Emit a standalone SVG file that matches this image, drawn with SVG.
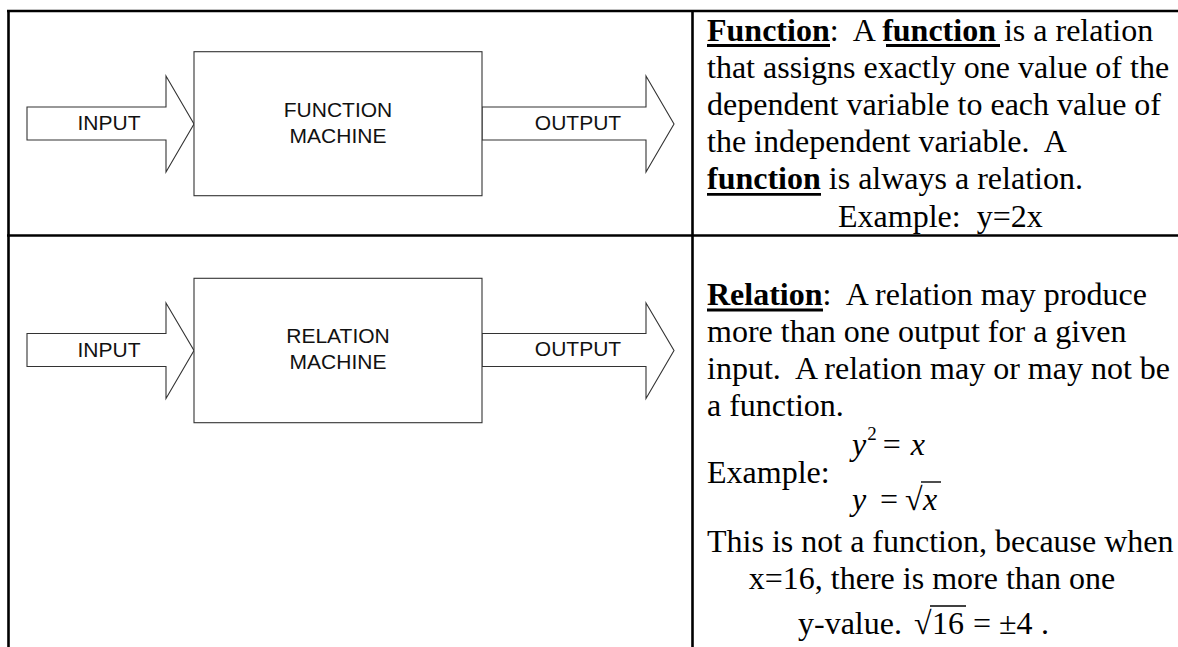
<svg xmlns="http://www.w3.org/2000/svg" width="1178" height="647" viewBox="0 0 1178 647">
<style>
.grid{stroke:#000;stroke-width:2.6;fill:none}
.shape{fill:#fff;stroke:#333;stroke-width:1.1}
.lbl{font-family:"Liberation Sans",Arial,sans-serif;font-size:21px;fill:#111;text-anchor:middle}
.t{font-family:"Liberation Serif","Times New Roman",serif;font-size:32px;fill:#000;white-space:pre}
.c{text-anchor:middle}
.b{font-weight:bold}
.i{font-style:italic}
.ul{stroke:#000;stroke-width:2.8}
.bar{stroke:#000;stroke-width:1.4}
</style>
<rect width="1178" height="647" fill="#fff"/>
<g id="table">
<line class="grid" x1="7" y1="11" x2="1178" y2="11"/>
<line class="grid" x1="7" y1="235.5" x2="1178" y2="235.5"/>
<line class="grid" x1="8.5" y1="10" x2="8.5" y2="647"/>
<line class="grid" x1="692.5" y1="10" x2="692.5" y2="647"/>
</g>
<g id="connectors">
<polygon id="in1" class="shape" points="27,107 166,107 166,76 194,124 166,172 166,140 27,140"/>
<polygon id="out1" class="shape" points="482,107 646,107 646,76 674,124 646,172 646,140 482,140"/>
<polygon id="in2" class="shape" points="27,333.5 166,333.5 166,303 194,350.5 166,398.5 166,366.5 27,366.5"/>
<polygon id="out2" class="shape" points="482,333.5 646,333.5 646,303 674,350.5 646,398.5 646,366.5 482,366.5"/>
<text class="lbl" x="109" y="130">INPUT</text>
<text class="lbl" x="578" y="129.5">OUTPUT</text>
<text class="lbl" x="109" y="356.7">INPUT</text>
<text class="lbl" x="578" y="356.2">OUTPUT</text>
</g>
<g id="function-machine">
<rect class="shape" x="194" y="51.7" width="288" height="144"/>
<text class="lbl" x="338" y="116.7">FUNCTION</text>
<text class="lbl" x="338" y="142.7">MACHINE</text>
</g>
<g id="relation-machine">
<rect class="shape" x="194" y="278.3" width="288" height="144.4"/>
<text class="lbl" x="338" y="343.3">RELATION</text>
<text class="lbl" x="338" y="369.3">MACHINE</text>
</g>
<g id="function-definition">
<text class="t" x="707" y="40.5"><tspan class="b">Function</tspan>:  A <tspan class="b">function</tspan> is a relation</text>
<line class="ul" x1="707" y1="45.5" x2="830" y2="45.5"/>
<line class="ul" x1="886" y1="45.5" x2="1000" y2="45.5"/>
<text class="t" x="707" y="77.7">that assigns exactly one value of the</text>
<text class="t" x="707" y="114.9">dependent variable to each value of</text>
<text class="t" x="707" y="152.1">the independent variable.  A</text>
<text class="t" x="707" y="189.3"><tspan class="b">function</tspan> is always a relation.</text>
<line class="ul" x1="707" y1="194.3" x2="821" y2="194.3"/>
<text class="t" x="838" y="226.5">Example:  y=2x</text>
</g>
<g id="relation-definition">
<text class="t" x="707" y="305"><tspan class="b">Relation</tspan>:  A relation may produce</text>
<line class="ul" x1="707" y1="310" x2="823" y2="310"/>
<text class="t" x="707" y="342">more than one output for a given</text>
<text class="t" x="707" y="379">input.  A relation may or may not be</text>
<text class="t" x="707" y="416">a function.</text>
<text class="t" x="707" y="483">Example:</text>
<text class="t" x="852" y="455"><tspan class="i">y</tspan><tspan font-size="19" dy="-15" dx="1">2</tspan><tspan dy="15" dx="6">=</tspan><tspan class="i" dx="10">x</tspan></text>
<text class="t i" x="852" y="510">y</text>
<text class="t" x="880" y="510">=</text>
<text class="t" x="905" y="510">√</text>
<text class="t i" x="923" y="510">x</text>
<line class="bar" x1="921" y1="482" x2="941" y2="482"/>
<text class="t" x="707" y="552">This is not a function, because when</text>
<text class="t c" x="932" y="589">x=16, there is more than one</text>
<text class="t" x="798" y="634">y-value.</text>
<text class="t" x="914" y="634">√</text>
<text class="t" x="932" y="634">16</text>
<line class="bar" x1="930" y1="606" x2="966" y2="606"/>
<text class="t" x="973" y="634">=</text>
<text class="t" x="999" y="634">±4</text>
<text class="t" x="1041" y="634">.</text>
</g>
</svg>
